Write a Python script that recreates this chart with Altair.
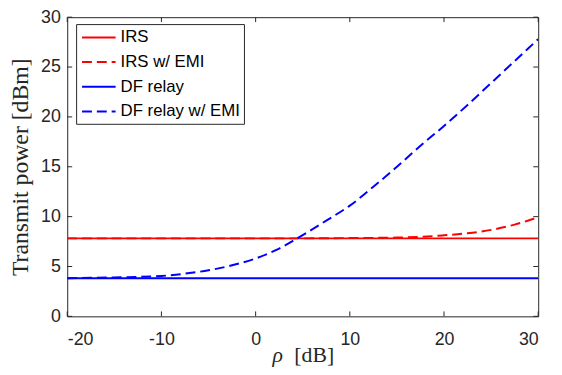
import altair as alt
import pandas as pd

rho = [-20, -17.5, -15, -12.5, -10, -7.5, -5, -2.5, 0, 2.5, 5, 7.5, 10,
       12.5, 15, 17.5, 20, 22.5, 25, 27.5, 30]
irs = [7.82, 7.82, 7.82, 7.82, 7.82, 7.82, 7.82, 7.82, 7.82, 7.82, 7.82,
       7.82, 7.82, 7.82, 7.82, 7.82, 7.82, 7.82, 7.82, 7.82, 7.82]
irs_emi = [7.82, 7.82, 7.82, 7.82, 7.82, 7.82, 7.82, 7.82, 7.82, 7.82, 7.82,
           7.83, 7.85, 7.87, 7.9, 7.97, 8.13, 8.33, 8.67, 9.2, 9.95]
df_relay = [3.83, 3.83, 3.83, 3.83, 3.83, 3.83, 3.83, 3.83, 3.83, 3.83, 3.83,
            3.83, 3.83, 3.83, 3.83, 3.83, 3.83, 3.83, 3.83, 3.83, 3.83]
df_emi = [3.83, 3.86, 3.9, 3.95, 4.05, 4.28, 4.62, 5.12, 5.8, 6.8, 8.15,
          9.6, 11.1, 13.0, 15.0, 17.1, 19.1, 21.2, 23.4, 25.6, 27.8]

series_names = ["IRS", "IRS w/ EMI", "DF relay", "DF relay w/ EMI"]
series_vals = [irs, irs_emi, df_relay, df_emi]
x_ticks = [-20, -10, 0, 10, 20, 30]
y_ticks = [0, 5, 10, 15, 20, 25, 30]
x_title_sym = ["ρ"]
x_title_unit = ["[dB]"]

rows = []
for name, vals in zip(series_names, series_vals):
    for r, v in zip(rho, vals):
        rows.append({"rho": r, "P": v, "series": name})
df = pd.DataFrame(rows)

W, H = 477, 303
TL = 5
AX = "#262626"

xs = alt.Scale(domain=[-20, 30], nice=False)
ys = alt.Scale(domain=[0, 30], nice=False)

lines = alt.Chart(df).mark_line(strokeWidth=2, clip=True, interpolate="monotone").encode(
    x=alt.X("rho:Q", scale=xs,
            axis=alt.Axis(values=x_ticks, title=None, labelExpr="'' + datum.value")),
    y=alt.Y("P:Q", scale=ys, axis=alt.Axis(values=y_ticks, title="Transmit power [dBm]")),
    color=alt.Color("series:N", sort=series_names,
                    scale=alt.Scale(domain=series_names,
                                    range=["#ff0000", "#ff0000", "#0000ff", "#0000ff"]),
                    legend=alt.Legend(title=None, orient="none", legendX=9, legendY=7,
                                      symbolType="M-1,0H3", symbolSize=289,
                                      symbolStrokeWidth=2, symbolFillColor="transparent",
                                      labelFontSize=17,
                                      labelFont="Liberation Sans", labelColor="#000000",
                                      rowPadding=7, padding=4, labelOffset=21,
                                      symbolOffset=1,
                                      strokeColor=AX, fillColor="#ffffff",
                                      labelLimit=300)),
    strokeDash=alt.StrokeDash("series:N", sort=series_names,
                              scale=alt.Scale(domain=series_names,
                                              range=[[1, 0], [10, 5], [1, 0], [10, 5]]),
                              legend=None),
    order=alt.Order("series:N"),
)

xt = pd.DataFrame({"t": x_ticks})
yt = pd.DataFrame({"t": y_ticks})
tick_bottom = alt.Chart(xt).mark_rule(color=AX, strokeWidth=1).encode(
    x=alt.X("t:Q", scale=xs), y=alt.value(H), y2=alt.value(H - TL))
tick_top = alt.Chart(xt).mark_rule(color=AX, strokeWidth=1).encode(
    x=alt.X("t:Q", scale=xs), y=alt.value(0), y2=alt.value(TL))
tick_left = alt.Chart(yt).mark_rule(color=AX, strokeWidth=1).encode(
    y=alt.Y("t:Q", scale=ys), x=alt.value(0), x2=alt.value(TL))
tick_right = alt.Chart(yt).mark_rule(color=AX, strokeWidth=1).encode(
    y=alt.Y("t:Q", scale=ys), x=alt.value(W), x2=alt.value(W - TL))

title_sym = alt.Chart(pd.DataFrame({"t": x_title_sym})).mark_text(
    font="Liberation Serif", fontSize=22, fontStyle="italic", color=AX,
    align="left", baseline="alphabetic").encode(
    text="t:N", x=alt.value(208), y=alt.value(H + 46))
title_unit = alt.Chart(pd.DataFrame({"t": x_title_unit})).mark_text(
    font="Liberation Serif", fontSize=22, color=AX,
    align="left", baseline="alphabetic").encode(
    text="t:N", x=alt.value(230), y=alt.value(H + 46))

chart = alt.layer(lines, tick_bottom, tick_top, tick_left, tick_right,
                  title_sym, title_unit).properties(
    width=W, height=H,
    autosize=alt.AutoSizeParams(type="none"),
    padding={"left": 60, "top": 7, "right": 16, "bottom": 49},
).configure_view(stroke=AX, strokeWidth=1).configure_axis(
    grid=False, domain=False, tickSize=0, labelFont="Liberation Sans",
    labelFontSize=18, labelColor=AX, titleFont="Liberation Serif",
    titleFontSize=24, titleColor=AX, titleFontWeight="normal",
).configure_axisX(labelPadding=15).configure_axisY(
    labelPadding=7, titlePadding=8)

chart.save("out.html", embed_options={"renderer": "svg", "actions": False})
